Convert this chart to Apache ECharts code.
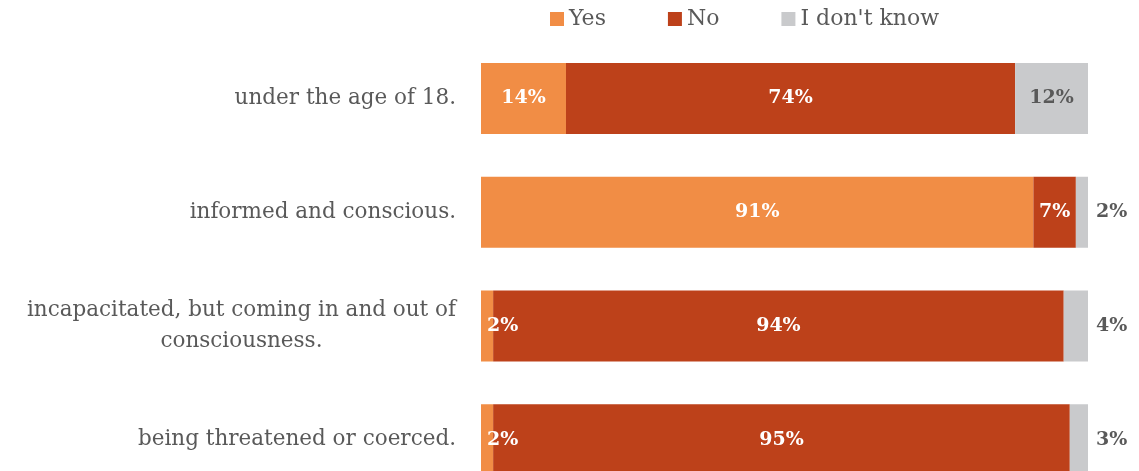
<!DOCTYPE html>
<html><head><meta charset="utf-8">
<script src="https://cdn.jsdelivr.net/npm/echarts@6/dist/echarts.min.js"></script>
<style>html,body{margin:0;padding:0;background:#fff}#c{width:1139px;height:471px}</style>
</head><body><div id="c"></div>
<script>
const categories = ['under the age of 18.', 'informed and conscious.', 'incapacitated, but coming in and out of\nconsciousness.', 'being threatened or coerced.'];
const seriesNames = ['Yes', 'No', "I don't know"];
const yesValues = [14, 91, 2, 2];
const noValues = [74, 7, 94, 95];
const dkValues = [12, 2, 4, 3];
const colors = ['#F18D45', '#BD411A', '#C9CACC'];

const slabFont = 'DejaVu Serif';
const catFontSize = 21.5;
const labelFont = { fontFamily: slabFont, fontWeight: 'bold', fontSize: 19 };

function itemsFor(values, kind) {
  return values.map(v => {
    let label = Object.assign({ show: true, position: 'inside', color: '#fff', formatter: '{c}%' }, labelFont);
    if (kind === 'yes' && v < 5) { label.position = 'insideLeft'; label.distance = 6; }
    if (kind === 'dk') {
      label.color = '#595959';
      if (v < 5) { label.position = 'right'; label.distance = 8; }
    }
    return { value: v, label: label };
  });
}

// measure multi-line category text to centre its lines while keeping the block right-aligned
const mctx = document.createElement('canvas').getContext('2d');
mctx.font = catFontSize + 'px "' + slabFont + '"';
const catData = categories.map(c => {
  if (c.indexOf('\n') < 0) return c;
  const w = Math.max.apply(null, c.split('\n').map(s => mctx.measureText(s).width));
  return { value: c, textStyle: { align: 'center', padding: [0, w, 0, 0] } };
});

const chart = echarts.init(document.getElementById('c'), null, { renderer: 'canvas' });
chart.setOption({
  animation: false,
  color: colors,
  legend: {
    top: 3, left: 545, itemWidth: 14, itemHeight: 14, itemGap: 62,
    icon: 'rect',
    textStyle: { fontFamily: slabFont, fontSize: 22, color: '#595959' },
    data: seriesNames
  },
  grid: { left: 481, width: 607, top: 41.5, height: 455, outerBoundsMode: 'none', containLabel: false },
  xAxis: { type: 'value', min: 0, max: 100, show: false },
  yAxis: {
    type: 'category', inverse: true, data: catData,
    axisLine: { show: false }, axisTick: { show: false },
    axisLabel: { margin: 25, fontFamily: slabFont, fontSize: catFontSize, color: '#595959', lineHeight: 31 }
  },
  series: [
    { name: seriesNames[0], type: 'bar', stack: 's', barWidth: 71, data: itemsFor(yesValues, 'yes') },
    { name: seriesNames[1], type: 'bar', stack: 's', barWidth: 71, data: itemsFor(noValues, 'no') },
    { name: seriesNames[2], type: 'bar', stack: 's', barWidth: 71, data: itemsFor(dkValues, 'dk') }
  ]
});
</script></body></html>
